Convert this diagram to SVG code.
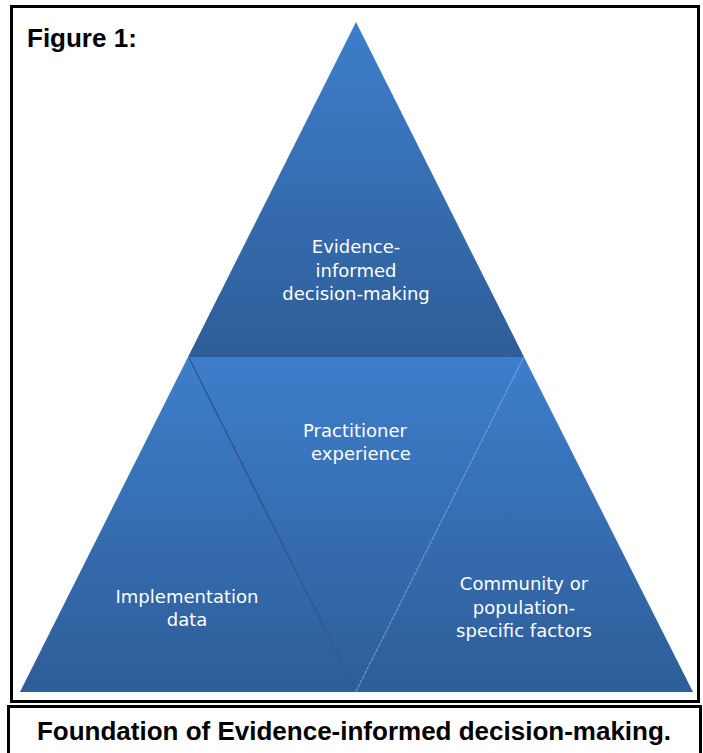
<svg xmlns="http://www.w3.org/2000/svg" width="703" height="753" viewBox="0 0 703 753">
<style>
.frame{fill:none;stroke:#000;stroke-width:3}
.lbl{font-family:"DejaVu Sans",sans-serif;font-size:18px;fill:#fff;text-anchor:middle}
.title{font-family:"Liberation Sans",Arial,sans-serif;font-weight:bold;font-size:26px;fill:#000}
</style>
<defs>
<linearGradient id="gUp" x1="0" y1="0" x2="0" y2="1">
<stop offset="0" stop-color="#3d7ecb"/>
<stop offset="1" stop-color="#2e5d98"/>
</linearGradient>
<linearGradient id="gDown" x1="0" y1="0" x2="0" y2="1">
<stop offset="0" stop-color="#3d7ecb"/>
<stop offset="1" stop-color="#2e5d98"/>
</linearGradient>
</defs>
<rect width="703" height="753" fill="#fff"/>
<rect class="frame" x="11.5" y="6.5" width="687" height="695"/>
<rect class="frame" x="8.5" y="706.5" width="692" height="48"/>
<text class="title" x="27" y="47">Figure 1:</text>
<g id="top">
<polygon points="356,22 524,357 188,357" fill="url(#gUp)"/>
<text class="lbl" x="356" y="253">Evidence-</text>
<text class="lbl" x="356" y="277">informed</text>
<text class="lbl" x="356" y="300">decision-making</text>
</g>
<g id="left">
<polygon points="188,357 356,692 20,692" fill="url(#gUp)"/>
<text class="lbl" x="187" y="603">Implementation</text>
<text class="lbl" x="187" y="626">data</text>
</g>
<g id="right">
<polygon points="524,357 693,692 356,692" fill="url(#gUp)"/>
<text class="lbl" x="524" y="590">Community or</text>
<text class="lbl" x="524" y="614">population-</text>
<text class="lbl" x="524" y="637">specific factors</text>
</g>
<g id="middle">
<polygon points="188,357 524,357 356,692" fill="url(#gDown)"/>
<text class="lbl" x="355" y="437">Practitioner</text>
<text class="lbl" x="361" y="460">experience</text>
</g>
<g id="connectors">
<line x1="189" y1="358" x2="356" y2="691" stroke="#2a568c" stroke-width="1.5"/>
<line x1="523" y1="358" x2="356" y2="691" stroke="#6d9cd6" stroke-width="1" stroke-dasharray="3,2"/>
</g>
<text class="title" x="354" y="740" text-anchor="middle">Foundation of Evidence-informed decision-making.</text>
</svg>
